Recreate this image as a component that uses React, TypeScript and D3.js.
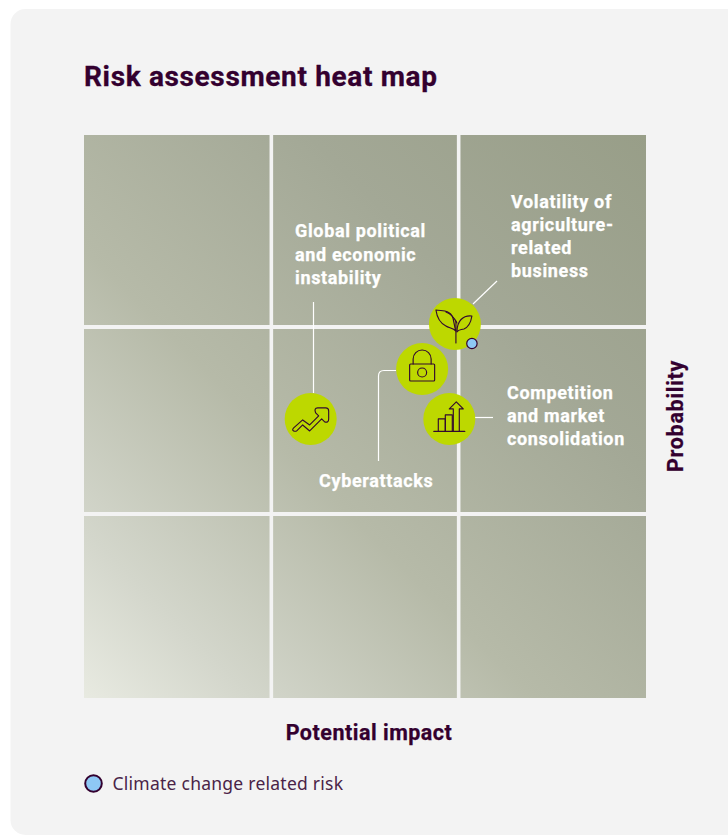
import React from "react";
import * as d3 from "d3";

const W = 728, H = 835;
const title = "Risk assessment heat map";
const xAxisLabel = "Potential impact";
const yAxisLabel = "Probability";
const legendLabel = "Climate change related risk";
const levels = [0, 1, 2];
const riskNames = ["trend", "lock", "chart", "leaf"];
const riskImpact = [1.21, 1.805, 1.95, 1.98];
const riskProbability = [1.487, 1.753, 1.487, 1.993];
const climateFlags = [false, false, false, true];

const DARK = "#33002f";
const x = d3.scaleLinear().domain([0, 3]).range([84, 646]);
const y = d3.scaleLinear().domain([0, 3]).range([698, 135]);
// the rows of the grid are not quite equal: row boundaries on the probability axis
const rowTop = d3.scaleOrdinal<number, number>().domain(levels).range([516, 329, 135]);
const rowBottom = d3.scaleOrdinal<number, number>().domain(levels).range([698, 512, 325]);

const Icon = ({ name }: { name: string }) => {
  const p = { fill: "none", stroke: "#33092f", strokeWidth: 1.15, strokeLinejoin: "round" as const, strokeLinecap: "round" as const };
  if (name === "trend") return <path {...p} d="M-17,9 L-8,1 L-1,6 L8,-3 L5,-6 Q3,-11 7,-11 H15 Q18,-11 18,-8 V0 Q18,4 14,3 L11,0 L-1,12 L-8,6 L-14,12 Q-17,13 -18,11 Q-18,10 -17,9 Z" />;
  if (name === "lock") return (
    <g {...p}>
      <rect x={-12.5} y={-5} width={25} height={17} rx={1} />
      <path d="M-9,-5 V-10 A9,9 0 0 1 9,-10 V-5" />
      <circle cx={0} cy={3.5} r={4.5} />
    </g>
  );
  if (name === "chart") return (
    <g {...p}>
      <path d="M-15.5,12.5 H15.5" />
      <path d="M-11,12 V0 H-4 V12" />
      <path d="M-4,12 V-4 H3 V12" />
      <path d="M4,12 V-10 H0 L7,-17 L14,-10 H10 V12" />
    </g>
  );
  return (
    <g {...p}>
      <path d="M1,19 V-3" />
      <path d="M1,7 C-2,-1 0,-9 -7,-12 C-11,-14 -15,-13 -19,-14 C-18,-7 -15,-1 -9,2 C-6,4 -2,4 1,7 Z" />
      <path d="M2,8 C2,-3 8,-9 17,-8 C16,-2 14,3 9,5 C6,6 4,5 2,8 Z" />
      <path d="M-9,-12 C-3,-10 0,-5 2,-1" />
    </g>
  );
};

const Lines = ({ px, py, dy, lines }: { px: number; py: number; dy: number; lines: string[] }) => (
  <text x={px} y={py} fill="#fff" stroke="#fff" strokeWidth={0.25} fontFamily="Roboto, sans-serif" fontWeight={700} fontSize={18} letterSpacing={0.65}>
    {lines.map((l, i) => <tspan key={l} x={px} y={py + i * dy}>{l}</tspan>)}
  </text>
);

export default function App() {
  const cw = x(1) - x(0);
  return (
    <svg width={W} height={H} style={{ position: "absolute", left: 0, top: 0 }}>
      <defs>
        <linearGradient id="heat" gradientUnits="userSpaceOnUse" x1={x(0)} y1={y(0)} x2={x(3)} y2={y(3)}>
          <stop offset="0" stopColor="#e8eae1" />
          <stop offset="0.15" stopColor="#d3d6cb" />
          <stop offset="0.4" stopColor="#b6baa8" />
          <stop offset="0.7" stopColor="#a3a896" />
          <stop offset="1" stopColor="#989e88" />
        </linearGradient>
      </defs>
      <rect x={10.5} y={9} width={740} height={826} rx={15} fill="#f3f3f3" />
      <text x={84} y={86} fill={DARK} stroke={DARK} strokeWidth={0.3} fontFamily="Roboto, sans-serif" fontWeight={700} fontSize={28} letterSpacing={0.65}>{title}</text>

      {levels.map((i) => levels.map((j) => (
        <rect key={`${i}-${j}`} x={x(i) + (i ? 1.8 : 0)} y={rowTop(j)}
          width={cw - (i ? 1.8 : 0) - (i < 2 ? 1.8 : 0)} height={rowBottom(j) - rowTop(j)} fill="url(#heat)" />
      )))}

      <g stroke="#fff" strokeWidth={1.2} fill="none">
        <path d={`M313.5,302 V393`} />
        <path d={`M473,304 L497,281`} />
        <path d={`M475,417.5 H493`} />
        <path d={`M396,370.5 H384 Q378.5,370.5 378.5,376 V461`} />
      </g>

      {riskNames.map((n, i) => (
        <g key={n} transform={`translate(${x(riskImpact[i])},${y(riskProbability[i])})`}>
          <circle r={26} fill="#bdd800" />
          <Icon name={n} />
          {climateFlags[i] && <circle cx={17} cy={19.5} r={5.2} fill="#8ec8f5" stroke={DARK} strokeWidth={1.2} />}
        </g>
      ))}

      <Lines px={295} py={237} dy={23.5} lines={["Global political", "and economic", "instability"]} />
      <Lines px={511} py={208} dy={23} lines={["Volatility of", "agriculture-", "related", "business"]} />
      <Lines px={507} py={399} dy={23} lines={["Competition", "and market", "consolidation"]} />
      <Lines px={319} py={487} dy={23} lines={["Cyberattacks"]} />

      <text x={369} y={740} textAnchor="middle" fill={DARK} stroke={DARK} strokeWidth={0.25} fontFamily="Roboto, sans-serif" fontWeight={700} fontSize={21.5} letterSpacing={0.5}>{xAxisLabel}</text>
      <text transform="translate(683,416) rotate(-90)" textAnchor="middle" fill={DARK} stroke={DARK} strokeWidth={0.25} fontFamily="Roboto, sans-serif" fontWeight={700} fontSize={21.5} letterSpacing={0.7}>{yAxisLabel}</text>

      <circle cx={93.5} cy={783.5} r={8.3} fill="#8ec8f5" stroke={DARK} strokeWidth={2} />
      <text x={112.5} y={790} fill="#4a2347" fontFamily="'Noto Sans', sans-serif" fontSize={17.5} letterSpacing={0.25}>{legendLabel}</text>
    </svg>
  );
}
